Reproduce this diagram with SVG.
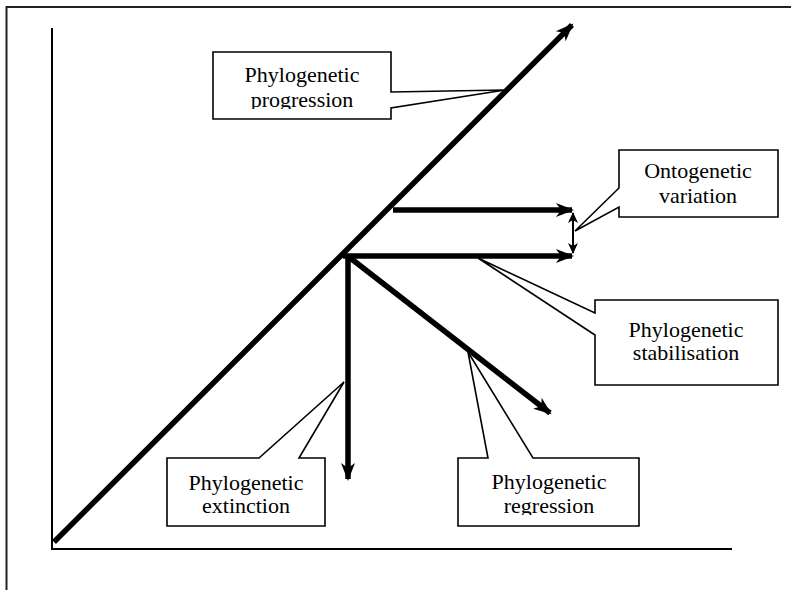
<svg xmlns="http://www.w3.org/2000/svg" width="791" height="590" viewBox="0 0 791 590">
  <style>
    .frame { fill: none; stroke: #222; stroke-width: 2; }
    .axis { fill: none; stroke: #000; stroke-width: 2; }
    .thick { fill: none; stroke: #000; stroke-width: 5.5; }
    .thin { fill: none; stroke: #000; stroke-width: 2; }
    .callout { fill: #fff; stroke: #000; stroke-width: 1.6; stroke-linejoin: miter; }
    .label { font-family: "Liberation Serif", "Times New Roman", serif; font-size: 22px; fill: #000; text-anchor: middle; }
  </style>
  <defs>
    <marker id="head" markerUnits="userSpaceOnUse" markerWidth="24" markerHeight="20" viewBox="-20 -10 24 20" refX="0" refY="0" orient="auto">
      <path d="M2,0 L-16,-7 L-11,0 L-16,7 Z" fill="#000"/>
    </marker>
    <marker id="small" markerUnits="userSpaceOnUse" markerWidth="16" markerHeight="12" viewBox="-12 -6 16 12" refX="0" refY="0" orient="auto-start-reverse">
      <path d="M1,0 L-10,-5 L-7,0 L-10,5 Z" fill="#000"/>
    </marker>
    <clipPath id="clipProgression"><rect x="213" y="52" width="178" height="57"/></clipPath>
    <clipPath id="clipRegression"><rect x="458" y="458" width="181" height="57"/></clipPath>
  </defs>

  <!-- outer frame -->
  <path class="frame" d="M6.5,600 V7 H800"/>

  <!-- axes -->
  <g id="axes">
    <path class="axis" d="M52,28 V549 H732"/>
  </g>

  <!-- callout boxes -->
  <g id="progression">
    <path class="callout" d="M213,52 H391 V92 L505,90 L391,108 V119 H213 Z"/>
    <g clip-path="url(#clipProgression)">
      <text class="label" x="302" y="82">Phylogenetic</text>
      <text class="label" x="302" y="107">progression</text>
    </g>
  </g>

  <g id="ontogenetic">
    <path class="callout" d="M619,150 H778 V217 H619 V207 L575,231 L619,188 Z"/>
    <text class="label" x="698" y="178">Ontogenetic</text>
    <text class="label" x="698" y="203">variation</text>
  </g>

  <g id="stabilisation">
    <path class="callout" d="M595,300 H778 V385 H595 V335 L478,258 L595,313 Z"/>
    <text class="label" x="686" y="337">Phylogenetic</text>
    <text class="label" x="686" y="360">stabilisation</text>
  </g>

  <g id="extinction">
    <path class="callout" d="M167,458 H259 L344,382 L299,458 H325 V526 H167 Z"/>
    <text class="label" x="246" y="490">Phylogenetic</text>
    <text class="label" x="246" y="513">extinction</text>
  </g>

  <g id="regression">
    <path class="callout" d="M458,458 H488 L468,352 L533,458 H639 V526 H458 Z"/>
    <g clip-path="url(#clipRegression)">
      <text class="label" x="549" y="489">Phylogenetic</text>
      <text class="label" x="549" y="513">regression</text>
    </g>
  </g>

  <!-- trajectories -->
  <g id="connectors">
    <line class="thick" x1="54" y1="542" x2="572" y2="25" marker-end="url(#head)"/>
    <line class="thick" x1="393" y1="210" x2="572" y2="210" marker-end="url(#head)"/>
    <line class="thick" x1="343" y1="256" x2="572" y2="256" marker-end="url(#head)"/>
    <line class="thick" x1="348" y1="254" x2="348" y2="479" marker-end="url(#head)"/>
    <line class="thick" x1="349" y1="257" x2="550" y2="413" marker-end="url(#head)"/>
    <line class="thin" x1="573" y1="213" x2="573" y2="253" marker-start="url(#small)" marker-end="url(#small)"/>
  </g>
</svg>
